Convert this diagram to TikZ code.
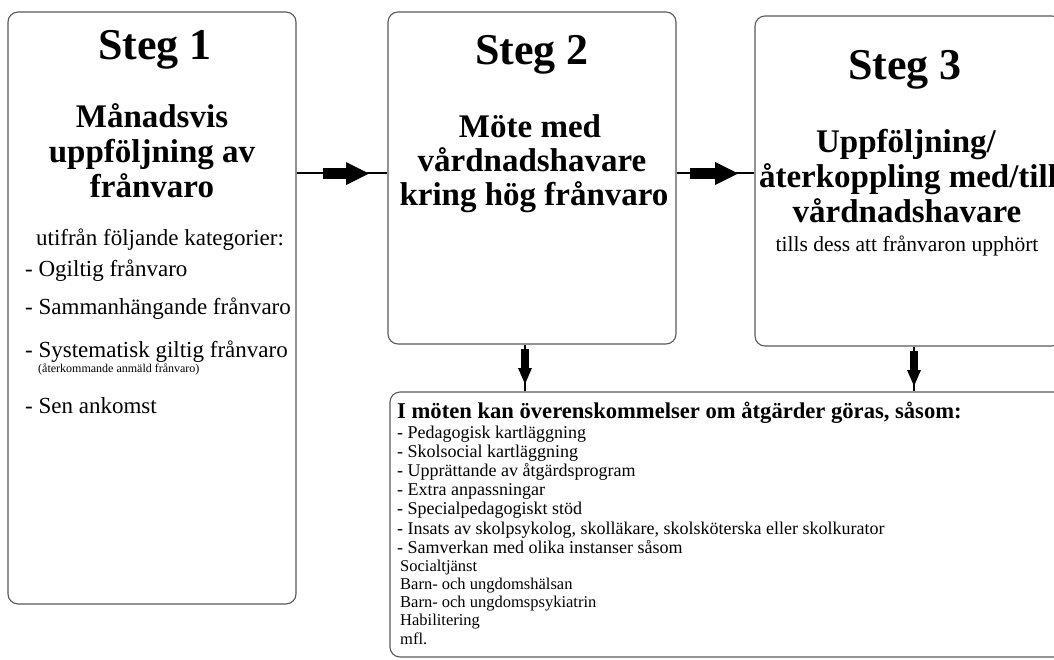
\documentclass[tikz,border=0pt]{standalone}
\usepackage{fontspec}
\setmainfont{Liberation Serif}
\definecolor{boxgray}{HTML}{5A5A5A}
\begin{document}
\begin{tikzpicture}[x=1pt,y=-1pt,
  box/.style={draw=boxgray, line width=1.1pt, rounded corners=10pt, inner sep=0pt},
  conn/.style={line width=1.8pt, black},
  tipfill/.style={fill=black},
  stegtxt/.style={font=\fontsize{44}{48}\selectfont\bfseries, anchor=base, inner sep=0pt},
  titletxt/.style={font=\fontsize{33}{37}\selectfont\bfseries, anchor=base, inner sep=0pt},
  midtxt/.style={font=\fontsize{23}{27}\selectfont, anchor=base, inner sep=0pt},
  subtitletxt/.style={font=\fontsize{21.5}{25}\selectfont, anchor=base, inner sep=0pt},
  listtxt/.style={font=\fontsize{23}{27}\selectfont, anchor=base west, inner sep=0pt},
  smalltxt/.style={font=\fontsize{12}{14}\selectfont, anchor=base west, inner sep=0pt},
  headtxt/.style={font=\fontsize{22.6}{26}\selectfont\bfseries, anchor=base west, inner sep=0pt},
  itemtxt/.style={font=\fontsize{18}{21}\selectfont, anchor=base west, inner sep=0pt},
  subtxt/.style={font=\fontsize{16.5}{19}\selectfont, anchor=base west, inner sep=0pt}]
\useasboundingbox (0,0) rectangle (1054,659);
\clip (0,0) rectangle (1054,659);
\fill[white] (0,0) rectangle (1054,659);

% boxes
\node[box, minimum width=288pt, minimum height=592pt] (b1) at (152,308) {};
\node[box, minimum width=288pt, minimum height=332pt] (b2) at (532,178) {};
\node[box, minimum width=307pt, minimum height=330pt] (b3) at (908.5,181) {};
\node[box, minimum width=680pt, minimum height=265pt] (b4) at (730,524.5) {};

% helper coordinates
\coordinate (hy) at (0,173);
\coordinate (v1) at (525,0);
\coordinate (v2) at (914,0);

% horizontal connectors
\draw[conn] (b1.east |- hy) -- (b2.west |- hy);
\fill[tipfill] (323,168) rectangle (347,179);
\fill[tipfill] (346,162) -- (369,173.5) -- (346,185) -- cycle;
\draw[conn] (b2.east |- hy) -- (b3.west |- hy);
\fill[tipfill] (690,168) rectangle (716,179);
\fill[tipfill] (715,162) -- (738,173.5) -- (715,185) -- cycle;

% vertical connectors
\draw[conn] (b2.south -| v1) -- (b4.north -| v1);
\fill[tipfill] (521,349) rectangle (529,369);
\fill[tipfill] (518,368) -- (532,368) -- (525,384) -- cycle;
\draw[conn] (b3.south -| v2) -- (b4.north -| v2);
\fill[tipfill] (910,351) rectangle (918,371);
\fill[tipfill] (907,370) -- (921,370) -- (914,386) -- cycle;

% box 1 text
\node[stegtxt] (s1) at (155,59) {Steg 1};
\node[titletxt] (t1a) at (152,127) {Månadsvis};
\node[titletxt] (t1b) at (152,162) {uppföljning av};
\node[titletxt] (t1c) at (152,197) {frånvaro};
\node[midtxt] (u1) at (160,245) {utifrån följande kategorier:};
\node[listtxt] (l1) at (25,276) {- Ogiltig frånvaro};
\node[listtxt] (l2) at (25,314) {- Sammanhängande frånvaro};
\node[listtxt] (l3) at (25,357) {- Systematisk giltig frånvaro};
\node[smalltxt] (l3b) at (38,372) {(återkommande anmäld frånvaro)};
\node[listtxt] (l4) at (25,413) {- Sen ankomst};

% box 2 text
\node[stegtxt] (s2) at (532,64) {Steg 2};
\node[titletxt] (t2a) at (530,137) {Möte med};
\node[titletxt] (t2b) at (532,171) {vårdnadshavare};
\node[titletxt] (t2c) at (534,205) {kring hög frånvaro};

% box 3 text
\node[stegtxt] (s3) at (905,79) {Steg 3};
\node[titletxt] (t3a) at (906,152) {Uppföljning/};
\node[titletxt] (t3b) at (908,187) {återkoppling med/till};
\node[titletxt] (t3c) at (907,222) {vårdnadshavare};
\node[subtitletxt] (t3d) at (907,251) {tills dess att frånvaron upphört};

% bottom box text
\node[headtxt] (h4) at (397,418) {I möten kan överenskommelser om åtgärder göras, såsom:};
\node[itemtxt] (i1) at (397,438) {- Pedagogisk kartläggning};
\node[itemtxt] (i2) at (397,457) {- Skolsocial kartläggning};
\node[itemtxt] (i3) at (397,476) {- Upprättande av åtgärdsprogram};
\node[itemtxt] (i4) at (397,495) {- Extra anpassningar};
\node[itemtxt] (i5) at (397,514) {- Specialpedagogiskt stöd};
\node[itemtxt] (i6) at (397,534) {- Insats av skolpsykolog, skolläkare, skolsköterska eller skolkurator};
\node[itemtxt] (i7) at (397,553) {- Samverkan med olika instanser såsom};
\node[subtxt] (j1) at (400,571) {Socialtjänst};
\node[subtxt] (j2) at (400,589) {Barn- och ungdomshälsan};
\node[subtxt] (j3) at (400,607) {Barn- och ungdomspsykiatrin};
\node[subtxt] (j4) at (400,625) {Habilitering};
\node[subtxt] (j5) at (400,644) {mfl.};
\end{tikzpicture}
\end{document}
